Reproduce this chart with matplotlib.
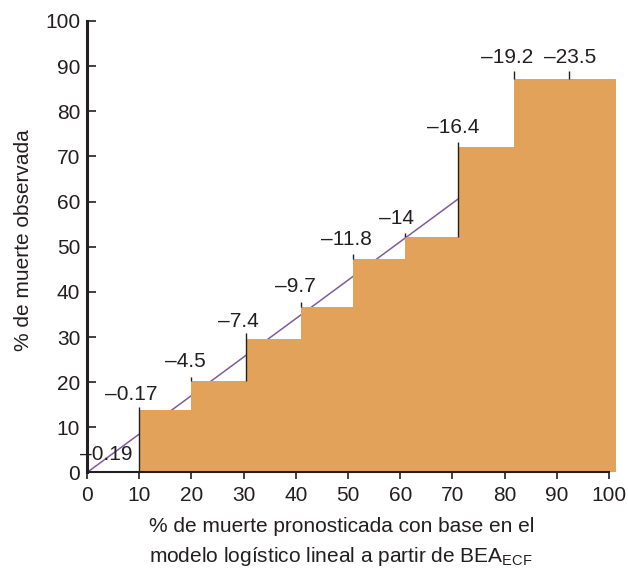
import matplotlib
matplotlib.use("Agg")
import matplotlib.pyplot as plt

plt.rcParams["font.family"] = ["Liberation Sans", "DejaVu Sans"]
plt.rcParams["mathtext.fontset"] = "custom"
plt.rcParams["mathtext.rm"] = "Liberation Sans"
plt.rcParams["mathtext.it"] = "Liberation Sans:italic"

# Step bars: left edges, right edges and observed mortality (%)
step_left = [10, 20, 30.4, 40.9, 50.9, 61.0, 71.0, 81.8]
step_right = [20, 30.4, 40.9, 50.9, 61.0, 71.0, 81.8, 101.3]
step_obs = [13.8, 20.3, 29.6, 36.7, 47.3, 52.2, 72.1, 87.2]

# Value labels with their marker positions
label_text = ["–0.19", "–0.17", "–4.5", "–7.4", "–9.7", "–11.8", "–14",
              "–16.4", "–19.2", "–23.5"]
marker_x = [0, 10, 20, 30.4, 40.9, 50.9, 61.0, 71.0, 81.8, 92.3]
marker_base = [0, 0, 20.3, 20.3, 36.7, 47.3, 52.2, 52.2, 87.2, 87.2]
marker_top = [2.1, 14.4, 21.2, 30.9, 37.8, 48.4, 53.1, 73.3, 89.0, 89.0]
label_x = [3.7, 8.5, 18.9, 29.0, 39.9, 49.7, 59.3, 70.1, 80.4, 92.5]
label_y = [2.8, 16.1, 23.4, 32.3, 40.0, 50.4, 55.0, 75.2, 90.6, 90.6]

# Reference diagonal (predicted vs observed)
diag_x = [0, 71.0]
diag_y = [0, 60.5]

xticks = [0, 10, 20, 30, 40, 50, 60, 70, 80, 90, 100]
yticks = [0, 10, 20, 30, 40, 50, 60, 70, 80, 90, 100]

BAR = "#E3A25A"
INK = "#231F20"
FS = 15

fig = plt.figure(figsize=(6.28, 5.70), dpi=100)
ax = fig.add_axes([0.1387, 0.1711, 0.8311, 0.7921])
ax.set_xlim(0, 100)
ax.set_ylim(0, 100)

ax.plot(diag_x, diag_y, color="#7F5C9E", lw=1.1, zorder=1, clip_on=False)

for l, r, h in zip(step_left, step_right, step_obs):
    ax.fill_between([l, r], 0, h, color=BAR, lw=0, zorder=2, clip_on=False)

for xm, b, t in zip(marker_x, marker_base, marker_top):
    ax.plot([xm, xm], [b, t], color=INK, lw=1.0, zorder=3, clip_on=False,
            solid_capstyle="butt")

for txt, lx, ly in zip(label_text, label_x, label_y):
    ax.text(lx, ly, txt, ha="center", va="baseline", fontsize=FS,
            color=INK, zorder=4)

for side in ("top", "right"):
    ax.spines[side].set_visible(False)
ax.spines["left"].set_linewidth(2.2)
ax.spines["bottom"].set_linewidth(1.5)
ax.spines["left"].set_color(INK)
ax.spines["bottom"].set_color(INK)
ax.spines["left"].set_zorder(5)
ax.spines["bottom"].set_zorder(5)

ax.set_xticks(xticks)
ax.set_yticks(yticks)
ax.tick_params(axis="y", direction="in", length=6.5, width=1.2, pad=5,
               labelsize=FS, colors=INK)
ax.tick_params(axis="x", direction="out", length=5, width=1.2, pad=5,
               labelsize=FS, colors=INK)

ax.set_ylabel("% de muerte observada", fontsize=FS, color=INK)
ax.yaxis.set_label_coords(-0.104, 0.515)

fig.text(149 / 628, 1 - 527 / 570, "% de muerte pronosticada con base en el",
         ha="left", va="center", fontsize=FS, color=INK)
fig.text(149 / 628, 1 - 556 / 570,
         "modelo logístico lineal a partir de BEA$_{\\mathrm{ECF}}$",
         ha="left", va="center", fontsize=FS, color=INK)

fig.savefig("out.png", dpi=100)
